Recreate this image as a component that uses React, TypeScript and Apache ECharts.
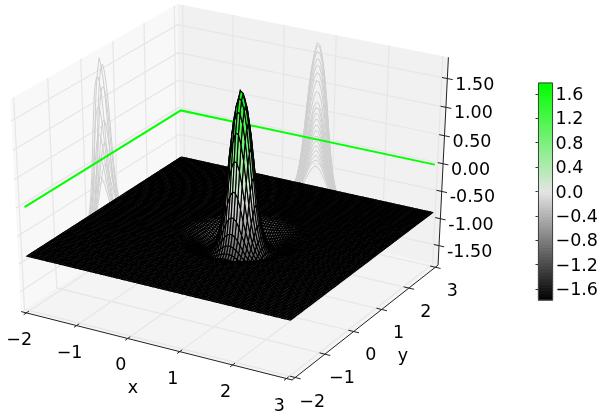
import React, { useEffect, useRef } from "react";
import * as echarts from "echarts";

// ---- values ----
const xTicks = [-2, -1, 0, 1, 2, 3];
const yTicks = [-2, -1, 0, 1, 2, 3];
const zTicks = [-1.5, -1, -0.5, 0, 0.5, 1, 1.5];
const zTickLabels = ["-1.50", "-1.00", "-0.50", "0.00", "0.50", "1.00", "1.50"];
const colorbarTicks = [-1.6, -1.2, -0.8, -0.4, 0, 0.4, 0.8, 1.2, 1.6];
const peakCentre = [0.72, 0.4];
const heightByRadius = [
  1.78, 1.62, 1.4, 1.06, 0.58, 0.06, -0.38, -0.66, -0.85, -0.98, -1.06, -1.09,
  -1.08, -1.05, -1.01, -0.97, -0.94, -0.92, -0.9, -0.885, -0.875, -0.87,
];
const radiusStep = 0.05;
const flatHeight = -0.87;
const zeroLine = 0;
// Distances of the nested curves on the two walls.
const backWallLevels = [0, 0.03, 0.06, 0.09, 0.11, 0.13, 0.15, 0.17, 0.19, 0.2, 0.21, 0.22, 0.23, 0.24, 0.25, 0.26, 0.27, 0.28, 0.29, 0.3, 0.32];
const leftWallLevels = [0, 0.04, 0.08, 0.12, 0.16, 0.19, 0.21, 0.23, 0.25, 0.27, 0.29];
const leftWallShifts = [0, 0.08, -0.08, 0.08, -0.08, 0.08, -0.08, 0.08, -0.08, 0.08, -0.08];
const colourStops: [number, number[]][] = [
  [-1.78, [0, 0, 0]],
  [0, [228, 228, 228]],
  [1.78, [0, 255, 0]],
];
const meshLow = -2;
const meshStep = 0.05;
const meshCells = 100;

// ---- view of the box ----
const boxX = [-2.104, 3.104];
const boxY = [-2.104, 3.104];
const boxZ = [-1.865, 1.865];
const view = { a: 232.8, b: 312.8, c: 185.6, e: 242.4, dist: 10 };
const FONT = "DejaVu Sans";
const FONT_SIZE = 17.5;

function project(x: number, y: number, z: number) {
  const qx = (x - boxX[0]) / (boxX[1] - boxX[0]) - 0.5;
  const qy = (y - boxY[0]) / (boxY[1] - boxY[0]) - 0.5;
  const qz = (z - boxZ[0]) / (boxZ[1] - boxZ[0]) - 0.5;
  const xv = 0.866 * qx + 0.5 * qy;
  const yv = -0.25 * qx + 0.433 * qy + 0.866 * qz;
  const d = 0.433 * qx - 0.75 * qy + 0.5 * qz;
  const s = view.dist / (view.dist - d);
  return { p: [view.a + view.b * xv * s, view.c - view.e * yv * s], d };
}
const P = (x: number, y: number, z: number) => project(x, y, z).p;

function heightAt(r: number) {
  const t = r / radiusStep;
  const i = Math.floor(t);
  if (i >= heightByRadius.length - 1) return flatHeight;
  return heightByRadius[i] + (heightByRadius[i + 1] - heightByRadius[i]) * (t - i);
}
const surfaceZ = (x: number, y: number) => heightAt(Math.hypot(x - peakCentre[0], y - peakCentre[1]));

function colourOf(v: number) {
  const [a, b] = v <= colourStops[1][0] ? [colourStops[0], colourStops[1]] : [colourStops[1], colourStops[2]];
  const t = Math.max(0, Math.min(1, (v - a[0]) / (b[0] - a[0])));
  const c = a[1].map((k, i) => Math.round(k + (b[1][i] - k) * t));
  return `rgb(${c[0]},${c[1]},${c[2]})`;
}

// ---- marks ----
type Poly = { pts: number[][]; fill: string };
type Seg = { pts: number[][]; color: string; width: number };
type Label = { at: number[]; text: string; align?: string };

const meshAxis = Array.from({ length: meshCells + 1 }, (_, i) => meshLow + i * meshStep);
const meshZ = meshAxis.map((x) => meshAxis.map((y) => surfaceZ(x, y)));
const cells: (Poly & { d: number })[] = [];
for (let i = 0; i < meshCells; i++) {
  for (let j = 0; j < meshCells; j++) {
    const corners = [[i, j], [i + 1, j], [i + 1, j + 1], [i, j + 1]];
    const pr = corners.map(([a, b]) => project(meshAxis[a], meshAxis[b], meshZ[a][b]));
    const mean = corners.reduce((s, [a, b]) => s + meshZ[a][b], 0) / 4;
    cells.push({ pts: pr.map((q) => q.p), fill: colourOf(mean), d: pr.reduce((s, q) => s + q.d, 0) / 4 });
  }
}
cells.sort((u, v) => u.d - v.d);

const [x0, x1] = boxX, [y0, y1] = boxY, [z0, z1] = boxZ;
const panes: Poly[] = [
  { pts: [P(x0, y0, z0), P(x0, y1, z0), P(x0, y1, z1), P(x0, y0, z1)], fill: "#f8f8f8" },
  { pts: [P(x0, y1, z0), P(x1, y1, z0), P(x1, y1, z1), P(x0, y1, z1)], fill: "#f1f1f1" },
  { pts: [P(x0, y0, z0), P(x1, y0, z0), P(x1, y1, z0), P(x0, y1, z0)], fill: "#f4f4f4" },
];
const GRID = "#e6e6e6";
const gridLines: Seg[] = [];
xTicks.forEach((x) => gridLines.push({ pts: [P(x, y0, z0), P(x, y1, z0), P(x, y1, z1)], color: GRID, width: 1.2 }));
yTicks.forEach((y) => gridLines.push({ pts: [P(x1, y, z0), P(x0, y, z0), P(x0, y, z1)], color: GRID, width: 1.2 }));
zTicks.forEach((z) => gridLines.push({ pts: [P(x0, y0, z), P(x0, y1, z), P(x1, y1, z)], color: GRID, width: 1.2 }));

const WALL = "#cfcfcf";
const wallLines: Seg[] = [];
backWallLevels.forEach((d) =>
  wallLines.push({
    pts: meshAxis.map((x) => P(x, y1 - 0.104, heightAt(Math.hypot(x - peakCentre[0], d)))),
    color: WALL,
    width: 1,
  })
);
leftWallLevels.forEach((d, k) =>
  wallLines.push({
    pts: meshAxis.map((y) => P(x0 + 0.104, y, heightAt(Math.hypot(d, y - peakCentre[1] - leftWallShifts[k])))),
    color: WALL,
    width: 1,
  })
);
const greenLine: Seg = {
  pts: [P(x0 + 0.104, y0 + 0.104, zeroLine), P(x0 + 0.104, y1 - 0.104, zeroLine), P(x1 - 0.104, y1 - 0.104, zeroLine)],
  color: "#00ff00",
  width: 2,
};

const INK = "#222";
const axisLines: Seg[] = [
  { pts: [P(x0, y0, z0), P(x1, y0, z0)], color: INK, width: 1 },
  { pts: [P(x1, y0, z0), P(x1, y1, z0)], color: INK, width: 1 },
  { pts: [P(x1, y1, z0), P(x1, y1, z1)], color: INK, width: 1 },
];
xTicks.forEach((x) => axisLines.push({ pts: [P(x, y0 + 0.08, z0), P(x, y0 - 0.08, z0)], color: INK, width: 1 }));
yTicks.forEach((y) => axisLines.push({ pts: [P(x1 - 0.1, y, z0), P(x1 + 0.1, y, z0)], color: INK, width: 1 }));
zTicks.forEach((z) => axisLines.push({ pts: [P(x1 - 0.1, y1, z), P(x1 + 0.1, y1, z)], color: INK, width: 1 }));

const minus = (v: number) => (v < 0 ? "\u2212" + Math.abs(v) : String(v));
const shift = (p: number[], dx: number, dy: number) => [p[0] + dx, p[1] + dy];
const labels: Label[] = [
  ...xTicks.map((x) => ({ at: shift(P(x, y0, z0), -7, 26), text: minus(x) })),
  ...yTicks.map((y) => ({ at: shift(P(x1, y, z0), 17, 23), text: minus(y) })),
  ...zTicks.map((z, i) => ({ at: shift(P(x1, y1, z), 8, 5), text: zTickLabels[i], align: "left" })),
  { at: [133, 387], text: "x" },
  { at: [403, 355], text: "y" },
];

const colorbarBands = Array.from({ length: 70 }, (_, i) => -1.78 + (i + 0.5) * (3.56 / 70));
const bandHeight = 3.56 / 70;

function polySeries(items: Poly[], stroke: string | null, lineWidth: number) {
  return {
    type: "custom",
    coordinateSystem: "cartesian2d",
    xAxisIndex: 0,
    yAxisIndex: 0,
    silent: true,
    progressive: 0,
    clip: false,
    data: items.map((_, i) => [i, 0]),
    renderItem: (params: any, api: any) => {
      const it = items[params.dataIndex];
      return {
        type: "polygon",
        shape: { points: it.pts.map((p) => api.coord(p)) },
        style: { fill: it.fill, stroke: stroke ?? undefined, lineWidth: stroke ? lineWidth : 0 },
      };
    },
  };
}
function lineSeries(items: Seg[]) {
  return {
    type: "custom",
    coordinateSystem: "cartesian2d",
    xAxisIndex: 0,
    yAxisIndex: 0,
    silent: true,
    progressive: 0,
    clip: false,
    data: items.map((_, i) => [i, 0]),
    renderItem: (params: any, api: any) => {
      const it = items[params.dataIndex];
      return {
        type: "polyline",
        shape: { points: it.pts.map((p) => api.coord(p)) },
        style: { fill: "none", stroke: it.color, lineWidth: it.width },
      };
    },
  };
}

export default function App() {
  const ref = useRef<HTMLDivElement>(null);
  useEffect(() => {
    const chart = echarts.init(ref.current!, undefined, { renderer: "svg" });
    chart.setOption({
      animation: false,
      grid: [
        { left: 0, top: 0, width: 601, height: 417 },
        { left: 538.5, top: 83, width: 14.5, height: 217 },
      ],
      xAxis: [
        { type: "value", gridIndex: 0, min: 0, max: 601, show: false },
        { type: "value", gridIndex: 1, min: 0, max: 1, show: false },
      ],
      yAxis: [
        { type: "value", gridIndex: 0, min: 0, max: 417, inverse: true, show: false },
        {
          type: "value",
          gridIndex: 1,
          position: "right",
          min: -1.78,
          max: 1.78,
          axisLine: { show: false },
          splitLine: { show: false },
          axisTick: { show: true, inside: true, length: 3, lineStyle: { color: "#333" }, customValues: colorbarTicks },
          axisLabel: {
            show: true,
            margin: 3,
            color: "#000",
            fontSize: FONT_SIZE,
            fontFamily: FONT,
            customValues: colorbarTicks,
            formatter: (v: number) => (Math.round(v * 10) < 0 ? "\u2212" : "") + Math.abs(v).toFixed(1),
          },
        },
      ],
      series: [
        polySeries(panes, null, 0),
        lineSeries(gridLines),
        lineSeries(wallLines),
        lineSeries([greenLine]),
        polySeries(cells, "#000", 1.12),
        lineSeries(axisLines),
        {
          type: "custom",
          coordinateSystem: "cartesian2d",
          xAxisIndex: 0,
          yAxisIndex: 0,
          silent: true,
          clip: false,
          data: labels.map((_, i) => [i, 0]),
          renderItem: (params: any, api: any) => {
            const l = labels[params.dataIndex];
            const c = api.coord(l.at);
            return {
              type: "text",
              x: c[0],
              y: c[1],
              style: {
                text: l.text,
                fill: "#000",
                fontFamily: FONT,
                fontSize: FONT_SIZE,
                align: l.align ?? "center",
                verticalAlign: "middle",
              },
            };
          },
        },
        {
          type: "custom",
          coordinateSystem: "cartesian2d",
          xAxisIndex: 1,
          yAxisIndex: 1,
          silent: true,
          progressive: 0,
          data: colorbarBands.map((v) => [0.5, v]),
          renderItem: (params: any, api: any) => {
            const v = api.value(1);
            const a = api.coord([0, v + bandHeight / 2]);
            const b = api.coord([1, v - bandHeight / 2]);
            const fill = colourOf(v);
            return {
              type: "rect",
              shape: { x: a[0], y: a[1], width: b[0] - a[0], height: b[1] - a[1] },
              style: { fill, stroke: fill, lineWidth: 1.2 },
            };
          },
        },
        {
          type: "custom",
          coordinateSystem: "cartesian2d",
          xAxisIndex: 1,
          yAxisIndex: 1,
          silent: true,
          z: 3,
          data: [[0.5, 0]],
          renderItem: (_: any, api: any) => {
            const a = api.coord([0, 1.78]);
            const b = api.coord([1, -1.78]);
            return {
              type: "rect",
              shape: { x: a[0], y: a[1], width: b[0] - a[0], height: b[1] - a[1] },
              style: { fill: "none", stroke: "#444", lineWidth: 1 },
            };
          },
        },
      ],
    });
    return () => chart.dispose();
  }, []);
  return <div ref={ref} style={{ position: "fixed", left: 0, top: 0, width: 601, height: 417 }} />;
}
